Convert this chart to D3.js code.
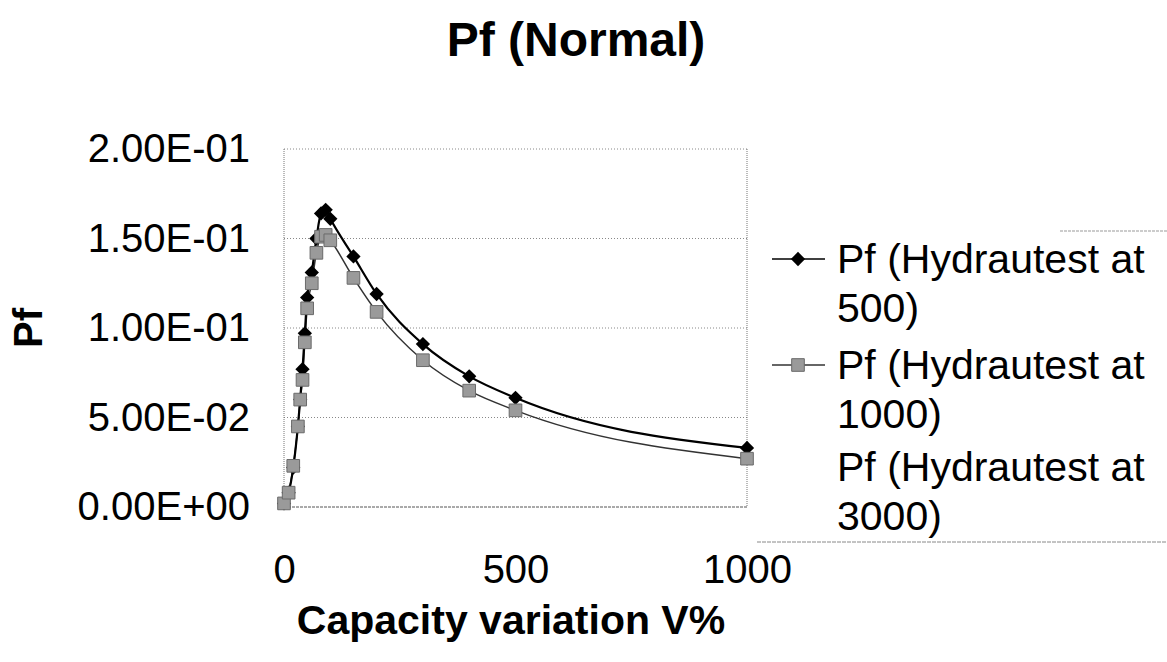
<!DOCTYPE html>
<html>
<head>
<meta charset="utf-8">
<script src="https://cdn.jsdelivr.net/npm/d3@7/dist/d3.min.js"></script>
<style>
  body { margin: 0; background: #fff; }
  text { font-family: "Liberation Sans", Arial, sans-serif; fill: #000; }
</style>
</head>
<body>
<svg id="chart" width="1167" height="662"></svg>
<script>
// capacity variation V% (x) and Pf values
var capacity = [0, 10, 20, 30, 35, 40, 45, 50, 60, 70, 80, 90, 100, 150, 200, 300, 400, 500, 1000];
var pf500 = [0.002, 0.008, 0.022, 0.045, 0.060, 0.077, 0.097, 0.117, 0.131, 0.150, 0.164, 0.166, 0.161,
             0.140, 0.119, 0.091, 0.073, 0.061, 0.033];
var pf1000 = [0.002, 0.008, 0.023, 0.045, 0.060, 0.071, 0.092, 0.111, 0.125, 0.142, 0.151, 0.152, 0.149,
              0.128, 0.109, 0.082, 0.065, 0.054, 0.027];
var seriesNames = ["Pf (Hydrautest at 500)", "Pf (Hydrautest at 1000)", "Pf (Hydrautest at 3000)"];
var yTicks = [0, 0.05, 0.10, 0.15, 0.20];
var yTickLabels = ["0.00E+00", "5.00E-02", "1.00E-01", "1.50E-01", "2.00E-01"];
var xTicks = [0, 500, 1000];

var svg = d3.select("#chart");
var plot = { left: 284, right: 747, top: 149, bottom: 507 };

var x = d3.scaleLinear().domain([0, 1000]).range([plot.left, plot.right]);
var y = d3.scaleLinear().domain([0, 0.2]).range([plot.bottom, plot.top]);

// title
svg.append("text")
  .attr("x", 576).attr("y", 56)
  .attr("text-anchor", "middle")
  .style("font-size", "48px").style("font-weight", "bold")
  .text("Pf (Normal)");

// gridlines
svg.append("g").selectAll("line")
  .data(yTicks.slice(1))
  .enter().append("line")
  .attr("x1", plot.left).attr("x2", plot.right)
  .attr("y1", function(d) { return y(d); })
  .attr("y2", function(d) { return y(d); })
  .attr("stroke", "#888").attr("stroke-width", 1)
  .attr("stroke-dasharray", "1,2");

// plot border (left and right dotted, bottom axis)
svg.append("line")
  .attr("x1", plot.left).attr("x2", plot.left).attr("y1", plot.top).attr("y2", plot.bottom)
  .attr("stroke", "#777").attr("stroke-dasharray", "1,1");
svg.append("line")
  .attr("x1", plot.right).attr("x2", plot.right).attr("y1", plot.top).attr("y2", plot.bottom)
  .attr("stroke", "#777").attr("stroke-dasharray", "1,1");
svg.append("line")
  .attr("x1", plot.left).attr("x2", plot.right).attr("y1", plot.bottom).attr("y2", plot.bottom)
  .attr("stroke", "#555").attr("stroke-dasharray", "3,1");

// y axis labels
var yAxis = d3.axisLeft(y).tickValues(yTicks).tickSize(0).tickPadding(34)
  .tickFormat(function(d, i) { return yTickLabels[i]; });
var gy = svg.append("g").attr("transform", "translate(" + plot.left + ",0)").call(yAxis);
gy.select(".domain").remove();
gy.selectAll("text").style("font-size", "40px").style("font-family", "Liberation Sans, Arial, sans-serif");

// x axis labels
var xAxis = d3.axisBottom(x).tickValues(xTicks).tickSize(0).tickPadding(48)
  .tickFormat(d3.format("d"));
var gx = svg.append("g").attr("transform", "translate(0," + plot.bottom + ")").call(xAxis);
gx.select(".domain").remove();
gx.selectAll("text").style("font-size", "40px").style("font-family", "Liberation Sans, Arial, sans-serif");

// axis titles
svg.append("text")
  .attr("x", 511).attr("y", 634)
  .attr("text-anchor", "middle")
  .style("font-size", "41px").style("font-weight", "bold")
  .text("Capacity variation V%");
svg.append("text")
  .attr("transform", "translate(42,328) rotate(-90)")
  .attr("text-anchor", "middle")
  .style("font-size", "40px").style("font-weight", "bold")
  .text("Pf");

// lines
var line = d3.line()
  .x(function(d) { return x(d[0]); })
  .y(function(d) { return y(d[1]); })
  .curve(d3.curveMonotoneX);

var data500 = capacity.map(function(c, i) { return [c, pf500[i]]; });
var data1000 = capacity.map(function(c, i) { return [c, pf1000[i]]; });

svg.append("path").datum(data1000)
  .attr("d", line).attr("fill", "none")
  .attr("stroke", "#333").attr("stroke-width", 1.5);
svg.append("path").datum(data500)
  .attr("d", line).attr("fill", "none")
  .attr("stroke", "#000").attr("stroke-width", 2.2);

var diamond = d3.symbol().type(d3.symbolDiamond2).size(130);
var square = d3.symbol().type(d3.symbolSquare).size(160);

svg.append("g").selectAll("path")
  .data(data500)
  .enter().append("path")
  .attr("d", diamond)
  .attr("transform", function(d) { return "translate(" + x(d[0]) + "," + y(d[1]) + ")"; })
  .attr("fill", "#000");

svg.append("g").selectAll("path")
  .data(data1000)
  .enter().append("path")
  .attr("d", square)
  .attr("transform", function(d) { return "translate(" + x(d[0]) + "," + y(d[1]) + ")"; })
  .attr("fill", "#9a9a9a").attr("stroke", "#6a6a6a").attr("stroke-width", 1);

// legend (only top and bottom edges show in the scan)
var legend = svg.append("g");
legend.append("line")
  .attr("x1", 1060).attr("x2", 1167).attr("y1", 231).attr("y2", 231)
  .attr("stroke", "#999").attr("stroke-dasharray", "3,1");
legend.append("line")
  .attr("x1", 757).attr("x2", 1167).attr("y1", 542).attr("y2", 542)
  .attr("stroke", "#888").attr("stroke-dasharray", "4,1");

var legendRows = [
  { name: seriesNames[0], y: 259, symbol: diamond, fill: "#000", stroke: "none", line: "#000" },
  { name: seriesNames[1], y: 365, symbol: square, fill: "#9a9a9a", stroke: "#6a6a6a", line: "#333" },
  { name: seriesNames[2], y: 467, symbol: null }
];

legendRows.forEach(function(r) {
  if (r.symbol) {
    legend.append("line")
      .attr("x1", 772).attr("x2", 825).attr("y1", r.y).attr("y2", r.y)
      .attr("stroke", r.line).attr("stroke-width", 1.5);
    legend.append("path")
      .attr("d", r.symbol)
      .attr("transform", "translate(798," + r.y + ")")
      .attr("fill", r.fill).attr("stroke", r.stroke);
  }
  var parts = r.name.split(" ");
  var t = legend.append("text").attr("x", 837).attr("y", r.y + 14).style("font-size", "41px");
  t.append("tspan").attr("x", 837).attr("dy", 0).text(parts.slice(0, 3).join(" "));
  t.append("tspan").attr("x", 837).attr("dy", 49).text(parts.slice(3).join(" "));
});
</script>
</body>
</html>
